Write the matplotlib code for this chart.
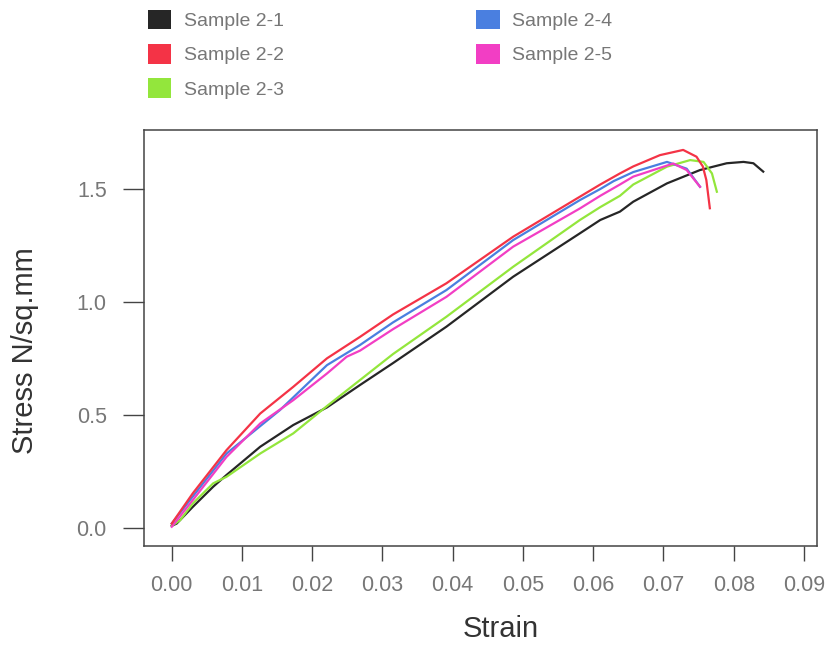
import matplotlib
matplotlib.use("Agg")
import matplotlib.pyplot as plt
from matplotlib.patches import Patch

plt.rcParams['font.family'] = ['Liberation Sans', 'DejaVu Sans']

labels = ["Sample 2-1", "Sample 2-2", "Sample 2-3", "Sample 2-4", "Sample 2-5"]
colors = ["#262626", "#f43346", "#93e63c", "#4a7fe0", "#f23ec4"]

s21_x = [0.0, 0.0007, 0.003, 0.0059, 0.0078, 0.0126, 0.0173, 0.0221, 0.0268, 0.0315,
         0.0391, 0.0486, 0.0581, 0.061, 0.0638, 0.0657, 0.0705, 0.0752, 0.079, 0.0814, 0.0828, 0.0842]
s21_y = [0.01, 0.02, 0.094, 0.183, 0.235, 0.36, 0.456, 0.534, 0.633, 0.73,
         0.891, 1.112, 1.304, 1.363, 1.40, 1.444, 1.525, 1.584, 1.614, 1.62, 1.614, 1.577]

s22_x = [0.0, 0.003, 0.0078, 0.0126, 0.0173, 0.0221, 0.0268, 0.0315, 0.0391, 0.0486,
         0.0581, 0.061, 0.0638, 0.0657, 0.0695, 0.0728, 0.0747, 0.0756, 0.0761, 0.0766]
s22_y = [0.02, 0.154, 0.345, 0.507, 0.625, 0.751, 0.846, 0.945, 1.083, 1.289,
         1.466, 1.52, 1.569, 1.60, 1.65, 1.673, 1.643, 1.60, 1.54, 1.415]

s23_x = [0.0, 0.0012, 0.003, 0.0059, 0.0078, 0.0126, 0.0173, 0.0221, 0.0268, 0.0315,
         0.0391, 0.0486, 0.0581, 0.061, 0.0638, 0.0657, 0.0705, 0.0738, 0.0757, 0.0769, 0.0776]
s23_y = [0.01, 0.035, 0.109, 0.198, 0.227, 0.33, 0.419, 0.54, 0.655, 0.77,
         0.935, 1.156, 1.363, 1.42, 1.47, 1.52, 1.599, 1.628, 1.62, 1.569, 1.488]

s24_x = [0.0, 0.003, 0.0078, 0.0154, 0.0221, 0.0268, 0.0315, 0.0391, 0.0486,
         0.0581, 0.061, 0.0629, 0.0657, 0.0705, 0.0733, 0.0752]
s24_y = [0.02, 0.14, 0.33, 0.522, 0.721, 0.81, 0.91, 1.053, 1.274,
         1.451, 1.50, 1.535, 1.575, 1.62, 1.59, 1.51]

s25_x = [0.0, 0.003, 0.0078, 0.0126, 0.0173, 0.0221, 0.0249, 0.0268, 0.0315, 0.0391,
         0.0486, 0.0581, 0.061, 0.0638, 0.0657, 0.0714, 0.0733, 0.0752]
s25_y = [0.006, 0.124, 0.315, 0.463, 0.566, 0.684, 0.758, 0.785, 0.88, 1.023,
         1.245, 1.414, 1.47, 1.52, 1.555, 1.613, 1.584, 1.51]

xticks = [0.00, 0.01, 0.02, 0.03, 0.04, 0.05, 0.06, 0.07, 0.08, 0.09]
xticklabels = ["0.00", "0.01", "0.02", "0.03", "0.04", "0.05", "0.06", "0.07", "0.08", "0.09"]
yticks = [0.0, 0.5, 1.0, 1.5]
yticklabels = ["0.0", "0.5", "1.0", "1.5"]

fig = plt.figure(figsize=(8.3, 6.45), dpi=100)
ax = fig.add_axes([0.1739, 0.1539, 0.8104, 0.6445])

series = [(s21_x, s21_y), (s22_x, s22_y), (s23_x, s23_y), (s24_x, s24_y), (s25_x, s25_y)]
order = [0, 2, 3, 4, 1]
for i in order:
    xs, ys = series[i]
    ax.plot(xs, ys, color=colors[i], lw=1.6, solid_joinstyle='round')

ax.set_xlim(-0.0039, 0.09185)
ax.set_ylim(-0.078, 1.761)
ax.set_xticks(xticks)
ax.set_xticklabels(xticklabels)
ax.set_yticks(yticks)
ax.set_yticklabels(yticklabels)

for sp in ax.spines.values():
    sp.set_color("#444444")
    sp.set_linewidth(1.1)

ax.tick_params(axis='x', direction='out', length=11, width=1.0, color="#444444",
               labelsize=15.5, labelcolor="#777777", pad=10)
ax.tick_params(axis='y', direction='out', length=15, width=1.0, color="#444444",
               labelsize=15.5, labelcolor="#777777", pad=12)

ax.set_xlabel("Strain", fontsize=21, color="#333333", labelpad=14)
ax.set_ylabel("Stress N/sq.mm", fontsize=21, color="#333333", labelpad=27)
ax.xaxis.label.set_x(0.53)
ax.yaxis.label.set_y(0.47)

handles = [Patch(facecolor=c, edgecolor='none') for c in colors]
leg = fig.legend(handles, labels, loc='upper left', bbox_to_anchor=(148 / 830, 1 - 10 / 645),
                 ncol=2, frameon=False, fontsize=14, handlelength=1.2, handleheight=1.15,
                 handletextpad=0.65, labelspacing=0.72, columnspacing=9.9, borderpad=0,
                 borderaxespad=0)
for t in leg.get_texts():
    t.set_color("#777777")

fig.savefig("out.png", dpi=100)
